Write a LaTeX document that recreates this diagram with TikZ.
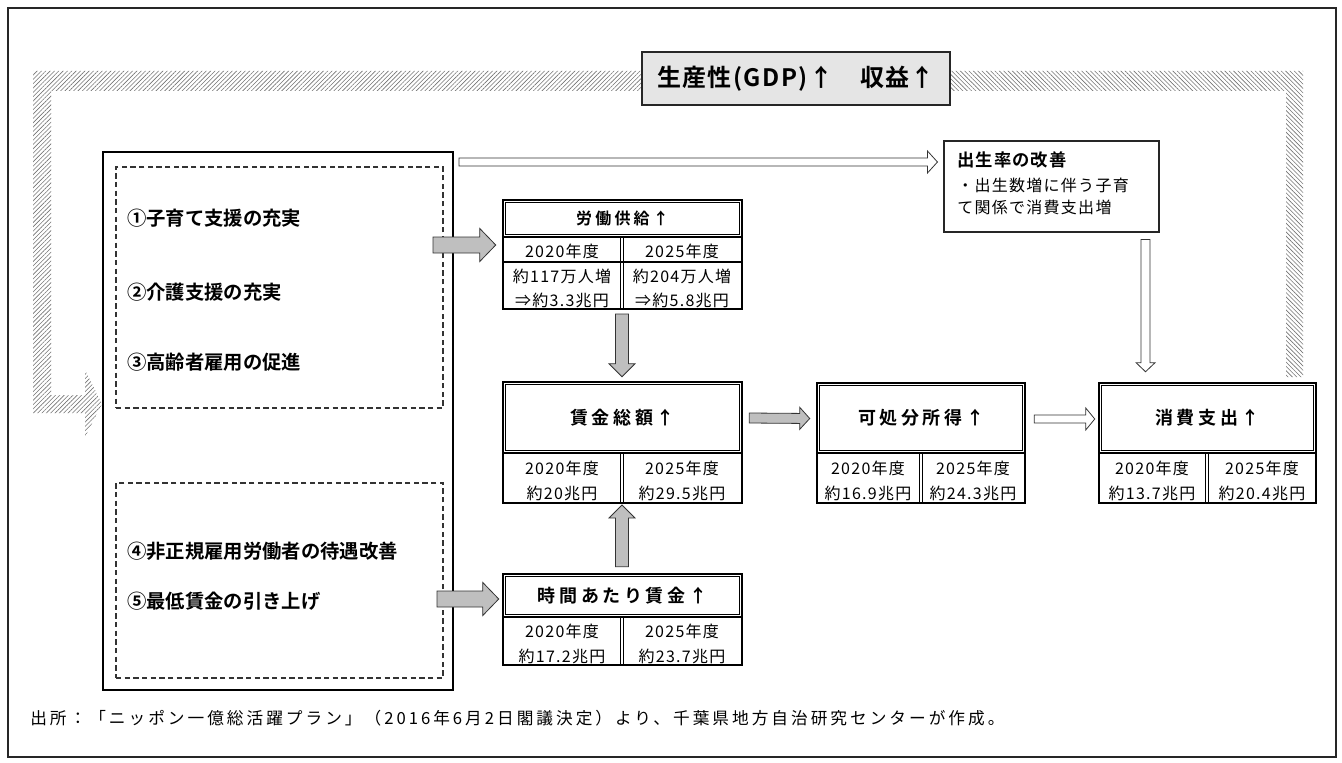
\documentclass[tikz,border=0pt]{standalone}
\usepackage{fontspec}
\setmainfont{Noto Sans CJK JP}[BoldFont={Noto Sans CJK JP Bold}]
\newfontfamily\jph{Noto Sans CJK JP Bold}[LetterSpace=20]
\newfontfamily\jpb{Noto Sans CJK JP Bold}[LetterSpace=6]
\newfontfamily\jpc{Noto Sans CJK JP}[LetterSpace=8]
\newfontfamily\jpf{Noto Sans CJK JP}[LetterSpace=18]
\usetikzlibrary{patterns.meta,calc,fit}
% block arrow: #1 style, #2 from, #3 to, #4 half shaft, #5 half head, #6 head length
\newcommand\blockarrow[6]{%
  \coordinate (bac) at ($(#3)!#6!(#2)$);
  \draw[#1] ($(#2)!#4!90:(#3)$) -- ($(bac)!#4!-90:(#2)$) -- ($(bac)!#5!-90:(#2)$) -- (#3)
     -- ($(bac)!#5!90:(#2)$) -- ($(bac)!#4!90:(#2)$) -- ($(#2)!#4!-90:(#3)$) -- cycle;}
\newcommand\innerline[1]{%
  \draw[line width=0.6pt] ($(#1.north west)+(2.6pt,-2.6pt)$) rectangle ($(#1.south east)+(-2.6pt,2.6pt)$);}
\begin{document}
\begin{tikzpicture}[x=0.75pt,y=-0.75pt,
  frame/.style={draw=black!85, line width=0.8pt},
  hdrbox/.style={draw=black, line width=1.9pt, inner sep=0pt},
  bigh/.style={inner sep=0pt, font=\jph\fontsize{13.5}{15}\selectfont},
  smallh/.style={inner sep=0pt, font=\jph\fontsize{12}{14}\selectfont},
  cellbox/.style={draw=black, line width=1.1pt},
  splitline/.style={draw=black, line width=0.8pt},
  dashbox/.style={draw=black!80, line width=0.8pt, dash pattern=on 4pt off 2.5pt, inner sep=0pt},
  graya/.style={fill=black!25, draw=black!80, line width=0.6pt},
  opena/.style={fill=white, draw=black!80, line width=0.6pt},
  item/.style={inner sep=0pt, anchor=west, font=\bfseries\fontsize{14.5}{16}\selectfont},
  ctext/.style={inner sep=0pt, font=\jpc\fontsize{12}{14}\selectfont},
  hatch/.style={pattern={Lines[angle=#1, distance=2.3pt, line width=0.45pt]}, pattern color=black!55},
]
\useasboundingbox (0,0) rectangle (1342,763);
\draw[frame] (8,8) rectangle (1336,757);

% hatched feedback band
\fill[hatch=45] (642,71) -- (33,71) -- (33,413) -- (85,413) -- (85,437) -- (102,404)
   -- (85,370) -- (85,395) -- (51,395) -- (51,91) -- (642,91) -- cycle;
\fill[hatch=-45] (950,71) -- (1303,71) -- (1303,377) -- (1286,377) -- (1286,91) -- (950,91) -- cycle;

% banner
\node[fit={(642,52) (950,105)}, inner sep=0pt, draw=black!85, line width=0.9pt, fill=black!10] (banner) {};
\node[inner sep=0pt, font=\jpb\fontsize{18}{20}\selectfont] (bannerT) at (banner.center) {生産性(GDP)↑　収益↑};

% left policy box
\node[fit={(103,152) (453,690)}, inner sep=0pt, draw=black, line width=1.1pt] (left) {};
\node[fit={(116,167) (443,408)}, dashbox] (grpA) {};
\node[fit={(116,483) (443,678)}, dashbox] (grpB) {};
\node[item] (p1) at (127,218) {①子育て支援の充実};
\node[item] (p2) at (127,292) {②介護支援の充実};
\node[item] (p3) at (127,362) {③高齢者雇用の促進};
\node[item] (p4) at (127,551) {④非正規雇用労働者の待遇改善};
\node[item] (p5) at (127,601) {⑤最低賃金の引き上げ};

% labour supply
\node[fit={(503,200) (742,237)}, hdrbox] (lab) {};
\node[smallh] (labT) at (lab.center) {労働供給↑};
\innerline{lab}
\draw[cellbox] (503,237) rectangle (742,309);
\draw[cellbox] (503,262) -- (742,262);
\draw[splitline] (620.5,237) -- (620.5,309);
\draw[splitline] (623.5,237) -- (623.5,309);
\node[ctext] (lab1y) at (562,251) {2020年度};
\node[ctext] (lab2y) at (682,251) {2025年度};
\node[ctext] (lab1a) at (562,276) {約117万人増};
\node[ctext] (lab2a) at (682,276) {約204万人増};
\node[ctext] (lab1b) at (562,300) {⇒約3.3兆円};
\node[ctext] (lab2b) at (682,300) {⇒約5.8兆円};

% total wages
\node[fit={(503,382) (742,453)}, hdrbox] (wage) {};
\node[bigh] (wageT) at (wage.center) {賃金総額↑};
\innerline{wage}
\draw[cellbox] (503,453) rectangle (742,503);
\draw[splitline] (620.5,453) -- (620.5,503);
\draw[splitline] (623.5,453) -- (623.5,503);
\node[ctext] (wage1y) at (562,468) {2020年度};
\node[ctext] (wage2y) at (682,468) {2025年度};
\node[ctext] (wage1v) at (562,493) {約20兆円};
\node[ctext] (wage2v) at (682,493) {約29.5兆円};

% hourly wage
\node[fit={(503,574) (742,617)}, hdrbox] (hour) {};
\node[bigh] (hourT) at (hour.center) {時間あたり賃金↑};
\innerline{hour}
\draw[cellbox] (503,617) rectangle (742,665);
\draw[splitline] (620.5,617) -- (620.5,665);
\draw[splitline] (623.5,617) -- (623.5,665);
\node[ctext] (hour1y) at (562,631) {2020年度};
\node[ctext] (hour2y) at (682,631) {2025年度};
\node[ctext] (hour1v) at (562,656) {約17.2兆円};
\node[ctext] (hour2v) at (682,656) {約23.7兆円};

% disposable income
\node[fit={(817,383) (1025,453)}, hdrbox] (disp) {};
\node[bigh] (dispT) at (disp.center) {可処分所得↑};
\innerline{disp}
\draw[cellbox] (817,453) rectangle (1025,503);
\draw[splitline] (919.5,453) -- (919.5,503);
\draw[splitline] (922.5,453) -- (922.5,503);
\node[ctext] (disp1y) at (868,468) {2020年度};
\node[ctext] (disp2y) at (973,468) {2025年度};
\node[ctext] (disp1v) at (868,493) {約16.9兆円};
\node[ctext] (disp2v) at (973,493) {約24.3兆円};

% consumption
\node[fit={(1099,383) (1316,453)}, hdrbox] (cons) {};
\node[bigh] (consT) at (cons.center) {消費支出↑};
\innerline{cons}
\draw[cellbox] (1099,453) rectangle (1316,503);
\draw[splitline] (1205.5,453) -- (1205.5,503);
\draw[splitline] (1208.5,453) -- (1208.5,503);
\node[ctext] (cons1y) at (1152,468) {2020年度};
\node[ctext] (cons2y) at (1262,468) {2025年度};
\node[ctext] (cons1v) at (1152,493) {約13.7兆円};
\node[ctext] (cons2v) at (1262,493) {約20.4兆円};

% birth rate box
\node[fit={(944,141) (1159,232)}, inner sep=0pt, draw=black!85, line width=0.8pt] (birth) {};
\node[inner sep=0pt, anchor=west, font=\jpb\fontsize{13}{15}\selectfont] (birthT) at (957,160) {出生率の改善};
\node[inner sep=0pt, anchor=west, font=\jpc\fontsize{12}{14}\selectfont] (birthA) at (957,185) {・出生数増に伴う子育};
\node[inner sep=0pt, anchor=west, font=\jpc\fontsize{12}{14}\selectfont] (birthB) at (957,207) {て関係で消費支出増};

% connectors
\coordinate (o1s) at (459,162);
\coordinate (o1e) at ($(birth.west |- o1s)+(-6,0)$);
\blockarrow{opena}{o1s}{o1e}{3pt}{8.25pt}{7.5pt}

\coordinate (o2s) at ($(birth.south east)+(-14,7)$);
\coordinate (o2e) at ($(o2s |- cons.north)+(0,-10)$);
\blockarrow{opena}{o2s}{o2e}{3.4pt}{7.1pt}{6.75pt}

\coordinate (o3s) at ($(disp.east)+(8,1)$);
\coordinate (o3e) at ($(cons.west)+(-3,1)$);
\blockarrow{opena}{o3s}{o3e}{3pt}{8.25pt}{6.75pt}

\coordinate (a1s) at (433,245);
\coordinate (a1e) at ($(lab.west |- a1s)+(-6,0)$);
\blockarrow{graya}{a1s}{a1e}{6pt}{12.4pt}{12pt}

\coordinate (a2s) at (437,599);
\coordinate (a2e) at ($(hour.west |- a2s)+(-3,0)$);
\blockarrow{graya}{a2s}{a2e}{6pt}{12.4pt}{12pt}

\coordinate (a3s) at (622,314);
\coordinate (a3e) at ($(wage.north)+(-0.5,-4)$);
\blockarrow{graya}{a3s}{a3e}{4.9pt}{9.75pt}{9.75pt}

\coordinate (a4s) at ($(hour.north)+(-0.5,-6)$);
\coordinate (a4e) at (622,505);
\blockarrow{graya}{a4s}{a4e}{4.9pt}{9.75pt}{9.75pt}

\coordinate (a5s) at ($(wage.east)+(6,0.5)$);
\coordinate (a5e) at ($(disp.west)+(-6,0.5)$);
\blockarrow{graya}{a5s}{a5e}{3.75pt}{8.25pt}{7.5pt}

% source note
\node[inner sep=0pt, anchor=west, font=\jpf\fontsize{12.5}{14}\selectfont] (src) at (30,718)
  {出所：「ニッポン一億総活躍プラン」（2016年6月2日閣議決定）より、千葉県地方自治研究センターが作成。};
\end{tikzpicture}
\end{document}
